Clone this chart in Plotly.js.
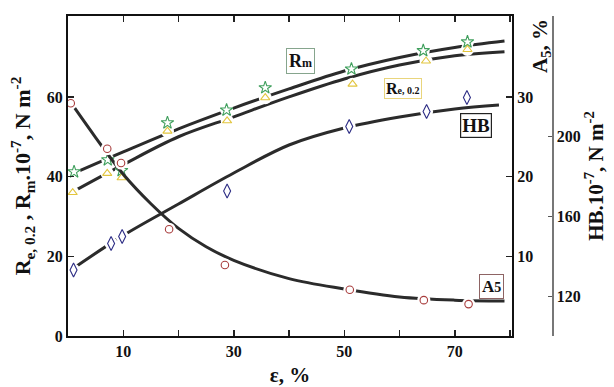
<!DOCTYPE html>
<html>
<head>
<meta charset="utf-8">
<script src="https://cdn.plot.ly/plotly-3.0.1.min.js"></script>
<style>html,body{margin:0;padding:0;background:#fff;}#chart{width:614px;height:387px;}</style>
</head>
<body>
<div id="chart"></div>
<script>
// ---- measured points ----
const epsRm = [1.1, 7.2, 9.7, 18.0, 28.7, 35.7, 51.3, 64.3, 72.3];
const Rm    = [41.2, 44.2, 41.5, 53.5, 56.7, 62.3, 67.0, 71.6, 73.8];
const epsRe = [0.85, 7.1, 9.7, 18.0, 28.8, 35.7, 51.5, 64.8, 72.3];
const Re    = [36.0, 40.8, 39.7, 51.4, 54.0, 59.8, 63.2, 69.0, 71.9];
const epsHB = [1.0, 7.8, 9.8, 28.8, 50.9, 64.9, 72.2];
const HB    = [133, 146.3, 149.7, 172.5, 204.7, 212.2, 219.3];
const epsA5 = [0.5, 7.1, 9.6, 18.3, 28.4, 51.0, 64.4, 72.5];
const A5    = [29.2, 23.5, 21.7, 13.4, 8.9, 5.8, 4.5, 4.0];

// ---- fitted curves ----
const fitX   = [0.5, 10, 20, 30, 40, 50, 60, 70, 79];
const RmFit  = [40.5, 46.2, 52.0, 57.2, 62.0, 66.5, 69.9, 72.4, 74.0];
const ReFit  = [35.9, 43.0, 50.0, 55.0, 60.0, 64.5, 68.0, 70.3, 71.3];
const hbX    = [0.8, 10, 20, 30, 40, 50, 60, 70, 78];
const HBFit  = [133.5, 150.3, 166.0, 181.5, 195.5, 204.0, 209.5, 213.5, 215.5];
const a5X    = [0.5, 5, 10, 15, 20, 25, 30, 40, 50, 60, 70, 79];
const A5Fit  = [29.3, 24.9, 20.3, 16.6, 13.5, 11.2, 9.5, 7.2, 5.9, 4.9, 4.5, 4.4];

const xTicks = [10, 30, 50, 70];
const yTicks = [0, 20, 40, 60];
const a5Ticks = [10, 20, 30];
const hbTicks = [120, 160, 200];

const FONT = 'Liberation Serif, Times New Roman, serif';
const LINE = '#2b2b2b';

function curve(x, y, yaxis) {
  return {x: x, y: y, yaxis: yaxis, type: 'scatter', mode: 'lines',
          line: {color: LINE, width: 3, shape: 'spline', smoothing: 1},
          hoverinfo: 'skip', showlegend: false};
}
function halo(x, y, yaxis) {
  return {x: x, y: y, yaxis: yaxis, type: 'scatter', mode: 'markers',
          marker: {symbol: 'circle', size: 13, color: '#ffffff', line: {width: 0}},
          hoverinfo: 'skip', showlegend: false};
}
function pts(x, y, yaxis, sym, col, size, name) {
  return {x: x, y: y, yaxis: yaxis, type: 'scatter', mode: 'markers', name: name,
          marker: {symbol: sym, size: size, color: '#ffffff', line: {color: col, width: 1.1}},
          showlegend: false};
}

const data = [
  curve(fitX, RmFit, 'y'),
  curve(fitX, ReFit, 'y'),
  curve(hbX, HBFit, 'y3'),
  curve(a5X, A5Fit, 'y2'),
  halo(epsRm, Rm, 'y'),
  halo(epsRe, Re, 'y'),
  halo(epsHB, HB, 'y3'),
  halo(epsA5, A5, 'y2'),
  pts(epsRm, Rm, 'y', 'star', '#3f9f5c', 9.5, 'Rm'),
  pts(epsRe, Re, 'y', 'triangle-up', '#e2c53e', 8, 'Re,0.2'),
  pts(epsHB, HB, 'y3', 'diamond-tall', '#2c2c84', 10, 'HB'),
  pts(epsA5, A5, 'y2', 'circle', '#a83c3c', 7.5, 'A5')
];

const tickFont = {family: FONT, size: 16, color: '#111', weight: 700};

const layout = {
  width: 614, height: 387,
  margin: {l: 68, r: 62, t: 16, b: 51, pad: 0},
  paper_bgcolor: '#ffffff', plot_bgcolor: 'rgba(0,0,0,0)',
  font: {family: FONT, color: '#111'},
  xaxis: {
    domain: [0, 444/484], range: [0, 80.36],
    tickvals: xTicks, ticks: 'inside', ticklen: 6, tickwidth: 1.5,
    minor: {tick0: 20, dtick: 20, ticks: 'inside', ticklen: 6, tickwidth: 1.5, tickcolor: '#222', showgrid: false},
    tickcolor: '#222', showline: true, linecolor: '#111', linewidth: 2, mirror: 'ticks',
    showgrid: false, zeroline: false, tickfont: tickFont,
    title: {text: 'ε, %', font: {family: FONT, size: 21, color: '#111', weight: 700}, standoff: 8}
  },
  yaxis: {
    range: [0, 80.3], tickvals: yTicks, ticks: 'inside', ticklen: 6, tickwidth: 1.5,
    tickcolor: '#222', showline: true, linecolor: '#111', linewidth: 2,
    showgrid: false, zeroline: false, tickfont: tickFont,
    title: {text: 'R<sub>e, 0.2</sub> , R<sub>m</sub>.10<sup>-7</sup>, N m<sup>-2</sup>',
            font: {family: FONT, size: 22, color: '#111', weight: 700}, standoff: 10}
  },
  yaxis2: {
    overlaying: 'y', side: 'right', anchor: 'x', range: [0, 40.15],
    tickvals: a5Ticks, ticks: 'inside', ticklen: 6, tickwidth: 1.5, tickcolor: '#222',
    showline: true, linecolor: '#111', linewidth: 2,
    showgrid: false, zeroline: false, tickfont: tickFont
  },
  yaxis3: {
    overlaying: 'y', side: 'right', anchor: 'free', position: 1, range: [100, 260],
    tickvals: hbTicks, ticks: 'inside', ticklen: 4, tickwidth: 1, tickcolor: '#555',
    showline: true, linecolor: '#777', linewidth: 1.5,
    showgrid: false, zeroline: false, tickfont: tickFont,
    title: {text: 'HB.10<sup>-7</sup>, N m<sup>-2</sup>',
            font: {family: FONT, size: 21, color: '#111', weight: 700}, standoff: 6}
  },
  annotations: [
    {xref: 'paper', yref: 'paper', x: (541-68)/484, y: (336-46)/320, xanchor: 'center', yanchor: 'middle',
     text: 'A<sub>5</sub>, %',
     textangle: -90, showarrow: false, font: {family: FONT, size: 21, color: '#111', weight: 700}},
    {xref: 'x', yref: 'y', x: 42, y: 69, text: 'R<span style="font-size:12px">m</span>',
     showarrow: false, bgcolor: '#fff', bordercolor: '#86a58d', borderwidth: 1, borderpad: 2,
     font: {family: FONT, size: 18, color: '#111', weight: 700}},
    {xref: 'x', yref: 'y', x: 60.6, y: 62, text: 'R<span style="font-size:10px">e, 0.2</span>',
     showarrow: false, bgcolor: '#fff', bordercolor: '#e9d57c', borderwidth: 1, borderpad: 1,
     font: {family: FONT, size: 16, color: '#111', weight: 700}},
    {xref: 'x', yref: 'y', x: 73.8, y: 52.7, text: 'HB',
     showarrow: false, bgcolor: '#fff', bordercolor: '#222', borderwidth: 1.2, borderpad: 1,
     font: {family: FONT, size: 19, color: '#111', weight: 700}},
    {xref: 'x', yref: 'y', x: 76.6, y: 12.5, text: 'A<span style="font-size:14px">5</span>',
     showarrow: false, bgcolor: '#fff', bordercolor: '#8e6464', borderwidth: 1, borderpad: 2,
     font: {family: FONT, size: 17, color: '#111', weight: 700}}
  ]
};

Plotly.newPlot('chart', data, layout, {displayModeBar: false, staticPlot: true});
</script>
</body>
</html>
